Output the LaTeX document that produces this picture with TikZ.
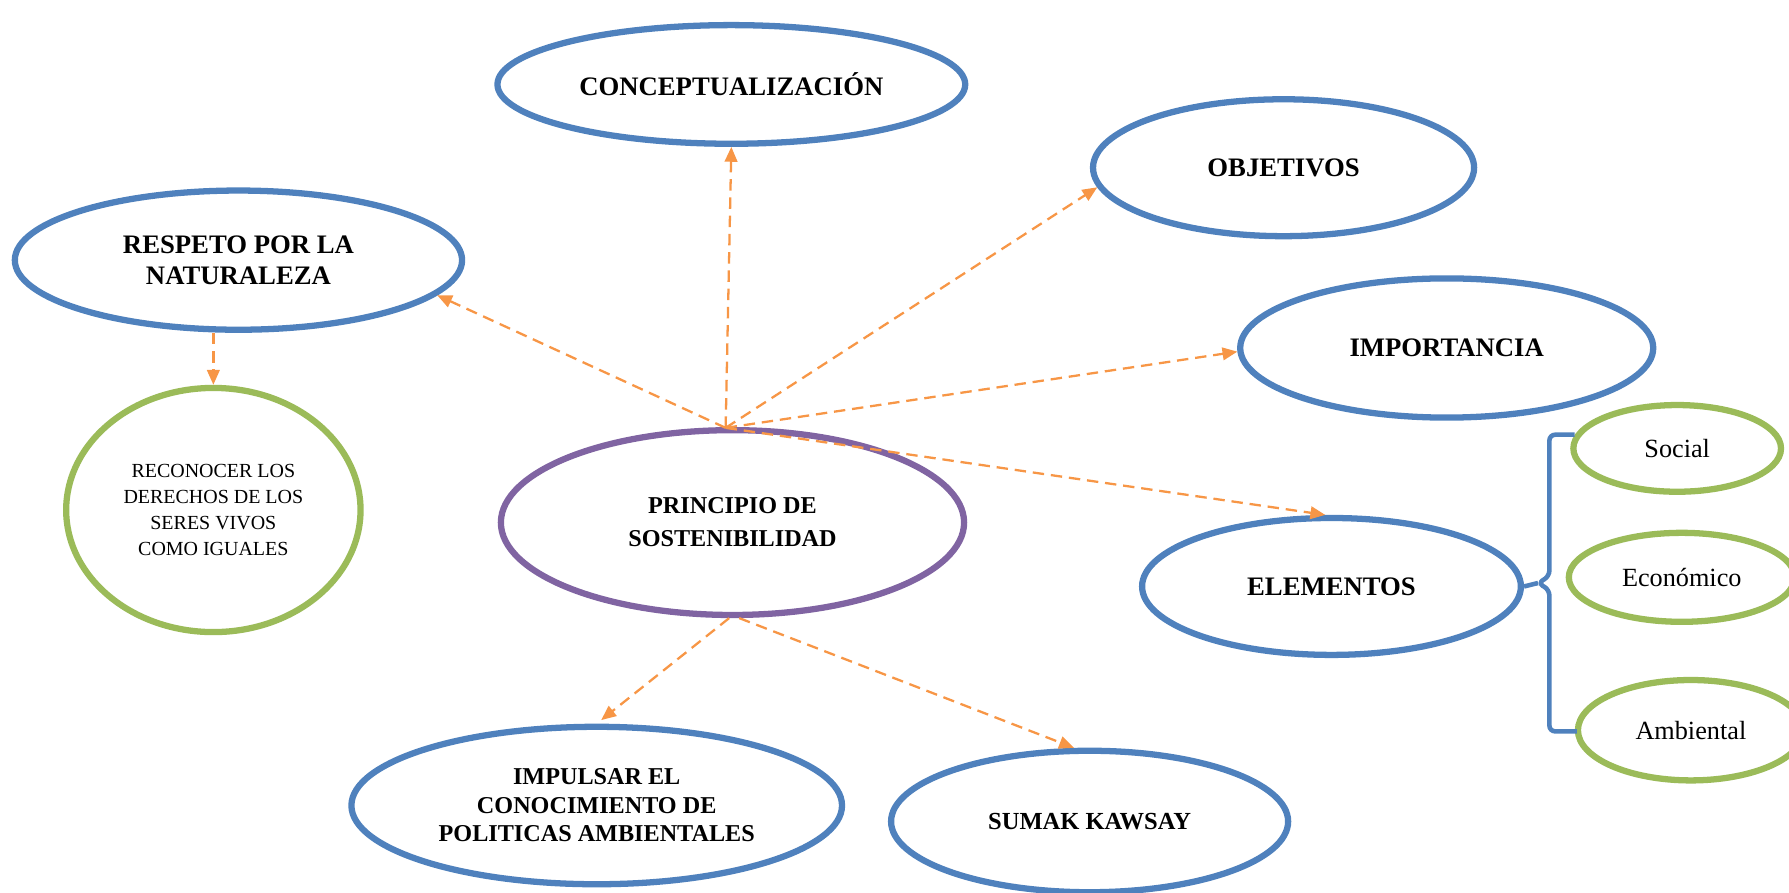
\documentclass[tikz,border=0pt]{standalone}
\usepackage{fontspec}
\setmainfont{Liberation Serif}
\usetikzlibrary{shapes.geometric,arrows.meta,calc}
\definecolor{cblue}{HTML}{4F81BD}
\definecolor{cgreen}{HTML}{9BBB59}
\definecolor{cpurple}{HTML}{8064A2}
\definecolor{corange}{HTML}{F79646}
\tikzset{
  ell/.style={ellipse, draw=cblue, line width=5.5pt, inner sep=0pt, align=center, fill=white},
  gell/.style={ell, draw=cgreen},
  pell/.style={ell, draw=cpurple},
  big/.style={font=\fontsize{23.4}{27}\selectfont\bfseries},
  small/.style={font=\fontsize{17.5}{23}\selectfont},
  mid/.style={font=\fontsize{23}{26}\selectfont},
  conn/.style={draw=corange, line width=2pt, dash pattern=on 10pt off 6pt, -{Triangle[length=13pt,width=11pt]}},
  brace/.style={draw=cblue, line width=4pt, rounded corners=5pt}
}
\begin{document}
\begin{tikzpicture}[x=1pt,y=-1pt]
\useasboundingbox (0,0) rectangle (1568,782);
\node[ell,big,minimum width=410pt,minimum height=104pt] (C) at (641,74) {CONCEPTUALIZACIÓN};
\node[ell,big,minimum width=334pt,minimum height=120pt] (O) at (1125,147) {OBJETIVOS};
\node[ell,big,minimum width=392pt,minimum height=122pt] (R) at (209,228) {RESPETO POR LA\\NATURALEZA};
\node[ell,big,minimum width=362pt,minimum height=122pt] (I) at (1268,305) {IMPORTANCIA};
\node[gell,small,minimum width=258pt,minimum height=214pt] (RC) at (187,447) {RECONOCER LOS\\DERECHOS DE LOS\\SERES VIVOS\\COMO IGUALES};
\node[pell,font=\fontsize{21.2}{29}\selectfont\bfseries,minimum width=406pt,minimum height=162pt] (P) at (642,458) {PRINCIPIO DE\\SOSTENIBILIDAD};
\node[ell,big,minimum width=332pt,minimum height=120pt] (E) at (1167,514) {ELEMENTOS};
\node[gell,mid,minimum width=182pt,minimum height=76pt] (So) at (1470,393) {Social};
\node[gell,mid,minimum width=198pt,minimum height=78pt] (Ec) at (1474,506) {Económico};
\node[gell,mid,minimum width=198pt,minimum height=88pt] (Am) at (1482,640) {Ambiental};
\node[ell,font=\fontsize{21.2}{25}\selectfont\bfseries,minimum width=430pt,minimum height=138pt] (IM) at (523,706) {IMPULSAR EL\\CONOCIMIENTO DE\\POLITICAS AMBIENTALES};
\node[ell,font=\fontsize{21.5}{25}\selectfont\bfseries,minimum width=348pt,minimum height=124pt] (S) at (955,720) {SUMAK KAWSAY};
% connectors
\coordinate (top) at (636,375);
\draw[conn] (top) -- (C.south);
\draw[conn] (top) -- (O.186);
\draw[conn] (top) -- (R.-10);
\draw[conn] (top) -- (I.181);
\draw[conn] (top) -- (E.95);
\draw[conn,shorten >=5pt] (P.-92) -- (IM.north);
\draw[conn] (P.-86) -- (S.102);
\draw[conn] (R.south -| RC.north) -- (RC.north);
% bracket
\coordinate (bt) at (1380,381);
\coordinate (bb) at (1382,641);
\coordinate (bm) at (1348,511);
\draw[brace] (bt) -- (1358,381) -- (1358,505) -- (bm) -- (1358,517) -- (1358,641) -- (bb);
\draw[draw=cblue, line width=4pt] (E.east) -- (bm);
\end{tikzpicture}
\end{document}
